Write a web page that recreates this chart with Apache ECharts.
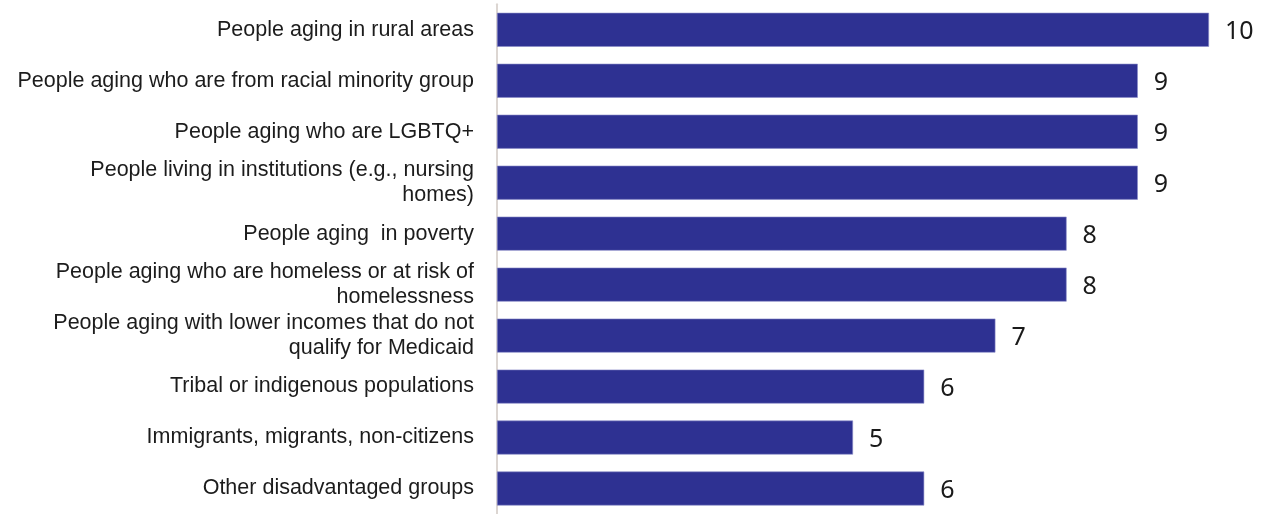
<!DOCTYPE html>
<html>
<head>
<meta charset="utf-8">
<script src="https://cdn.jsdelivr.net/npm/echarts@6/dist/echarts.min.js"></script>
<style>
  html, body { margin: 0; padding: 0; background: #ffffff; }
  #chart { width: 1264px; height: 514px; }
</style>
</head>
<body>
<div id="chart"></div>
<script>
// Groups listed top to bottom
const categories = [
  'People aging in rural areas',
  'People aging who are from racial minority group',
  'People aging who are LGBTQ+',
  'People living in institutions (e.g., nursing\nhomes)',
  'People aging  in poverty',
  'People aging who are homeless or at risk of\nhomelessness',
  'People aging with lower incomes that do not\nqualify for Medicaid',
  'Tribal or indigenous populations',
  'Immigrants, migrants, non-citizens',
  'Other disadvantaged groups'
];
const counts = [10, 9, 9, 9, 8, 8, 7, 6, 5, 6];

const chart = echarts.init(document.getElementById('chart'), null, { renderer: 'canvas' });

chart.setOption({
  animation: false,
  backgroundColor: '#ffffff',
  grid: { left: 497, top: 4.3, width: 712, height: 514.4, containLabel: false },
  xAxis: {
    type: 'value',
    min: 0,
    max: 10,
    show: false
  },
  yAxis: {
    type: 'category',
    inverse: true,
    data: categories,
    axisLine: { show: true, lineStyle: { color: '#dcd6d2', width: 2 } },
    axisTick: { show: false },
    axisLabel: {
      margin: 23,
      color: '#1c1c1c',
      fontFamily: 'Liberation Sans',
      fontSize: 21.5,
      lineHeight: 25,
      align: 'right'
    }
  },
  series: [{
    type: 'bar',
    data: counts,
    barWidth: 34,
    itemStyle: { color: '#2e3192', borderColor: '#8a8cc8', borderWidth: 0.6 },
    label: {
      show: true,
      position: 'right',
      distance: 16,
      offset: [0, 2],
      color: '#1a1a1a',
      fontFamily: 'Noto Sans',
      fontSize: 25
    }
  }]
});
</script>
</body>
</html>
